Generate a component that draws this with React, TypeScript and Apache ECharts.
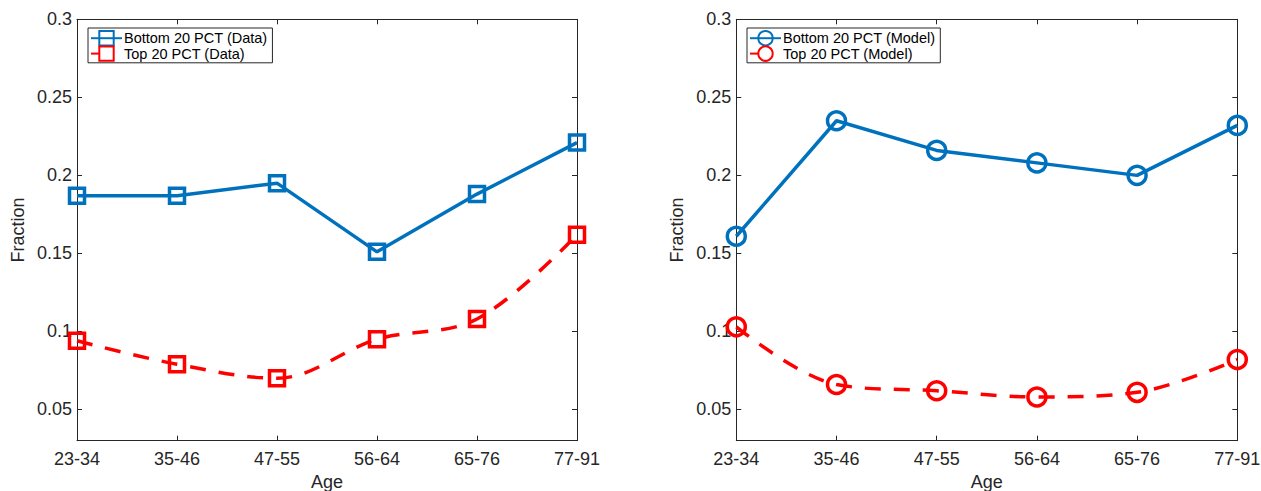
import React, { useEffect, useRef } from "react";
import * as echarts from "echarts";

const categories = ["23-34", "35-46", "47-55", "56-64", "65-76", "77-91"];
const dataBottom = [0.187, 0.187, 0.195, 0.151, 0.188, 0.221];
const dataTop = [0.094, 0.079, 0.07, 0.095, 0.108, 0.162];
const modelBottom = [0.161, 0.235, 0.216, 0.208, 0.2, 0.232];
const modelTop = [0.103, 0.066, 0.062, 0.058, 0.061, 0.082];
const yTicks = [0.05, 0.1, 0.15, 0.2, 0.25, 0.3];
const legendNames = [
  ["Bottom 20 PCT (Data)", "Top 20 PCT (Data)"],
  ["Bottom 20 PCT (Model)", "Top 20 PCT (Model)"],
];

const BLUE = "#0072BD";
const RED = "#FF0000";
const AX = "#262626";
const FONT = "'Liberation Sans', Arial, Helvetica, sans-serif";
const Y_MIN = 0.03;
const Y_MAX = 0.3;

export default function App() {
  const ref = useRef<HTMLDivElement>(null);
  useEffect(() => {
    if (!ref.current) return;
    const chart = echarts.init(ref.current, null, { renderer: "svg" });
    const grids = [
      { left: 77, top: 19.3, width: 500, height: 421.4, outerBoundsMode: "none", containLabel: false },
      { left: 736.3, top: 19.3, width: 501, height: 421.4, outerBoundsMode: "none", containLabel: false },
    ];
    const xAxes: any[] = [];
    const yAxes: any[] = [];
    grids.forEach((_, g) => {
      xAxes.push({
        type: "category",
        gridIndex: g,
        data: categories,
        boundaryGap: false,
        name: "Age",
        nameLocation: "middle",
        nameGap: 29,
        nameTextStyle: { color: AX, fontSize: 18, fontFamily: FONT },
        axisLine: { show: true, lineStyle: { color: AX, width: 1 } },
        axisTick: { show: true, inside: true, length: 5, alignWithLabel: true, lineStyle: { color: AX } },
        axisLabel: { color: AX, fontSize: 18, fontFamily: FONT, margin: 9 },
        splitLine: { show: false },
      });
      xAxes.push({
        type: "category",
        gridIndex: g,
        position: "top",
        data: categories,
        boundaryGap: false,
        axisLine: { show: true, lineStyle: { color: AX, width: 1 } },
        axisTick: { show: true, inside: true, length: 5, lineStyle: { color: AX } },
        axisLabel: { show: false },
        splitLine: { show: false },
      });
      yAxes.push({
        type: "value",
        gridIndex: g,
        min: Y_MIN,
        max: Y_MAX,
        name: "Fraction",
        nameLocation: "middle",
        nameGap: 50,
        nameTextStyle: { color: AX, fontSize: 18, fontFamily: FONT },
        axisLine: { show: true, lineStyle: { color: AX, width: 1 } },
        axisTick: { show: true, inside: true, length: 5, customValues: yTicks, lineStyle: { color: AX } },
        axisLabel: {
          color: AX,
          fontSize: 18,
          fontFamily: FONT,
          margin: 5,
          customValues: yTicks,
          formatter: (v: number) => String(Math.round(v * 100) / 100),
        },
        splitLine: { show: false },
      });
      yAxes.push({
        type: "value",
        gridIndex: g,
        position: "right",
        min: Y_MIN,
        max: Y_MAX,
        axisLine: { show: true, lineStyle: { color: AX, width: 1 } },
        axisTick: { show: true, inside: true, length: 5, customValues: yTicks, lineStyle: { color: AX } },
        axisLabel: { show: false, customValues: yTicks },
        splitLine: { show: false },
      });
    });

    const mk = (
      name: string,
      data: number[],
      g: number,
      color: string,
      symbol: string,
      size: number,
      dashed: boolean
    ) => ({
      type: "line",
      name,
      xAxisIndex: g * 2,
      yAxisIndex: g * 2,
      data,
      symbol,
      symbolSize: size,
      showSymbol: true,
      clip: false,
      smooth: dashed ? 0.35 : false,
      lineStyle: { color, width: 3.5, type: dashed ? [16, 13] : "solid", cap: "butt" },
      itemStyle: { color: "rgba(0,0,0,0)", borderColor: color, borderWidth: 3.5 },
      emphasis: { disabled: true },
      z: dashed ? 3 : 4,
    });

    const series = [
      mk(legendNames[0][0], dataBottom, 0, BLUE, "rect", 15, false),
      mk(legendNames[0][1], dataTop, 0, RED, "rect", 15, true),
      mk(legendNames[1][0], modelBottom, 1, BLUE, "circle", 18, false),
      mk(legendNames[1][1], modelTop, 1, RED, "circle", 18, true),
    ];

    const legendBase = {
      orient: "vertical",
      top: 28,
      padding: [2, 5, 1, 2],
      itemGap: -1,
      itemWidth: 31,
      itemHeight: 18,
      borderColor: AX,
      borderWidth: 1,
      backgroundColor: "#fff",
      textStyle: { color: "#000", fontSize: 14.5, fontFamily: FONT, padding: [0, 0, 0, -3] },
      selectedMode: false,
    };
    const legendData = (names: string[]) => [
      { name: names[0] },
      { name: names[1], lineStyle: { type: [8, 40] } },
    ];

    chart.setOption({
      animation: false,
      backgroundColor: "#fff",
      grid: grids,
      xAxis: xAxes,
      yAxis: yAxes,
      legend: [
        { ...legendBase, left: 88, data: legendData(legendNames[0]) },
        { ...legendBase, left: 747, data: legendData(legendNames[1]) },
      ],
      series,
    });
    return () => chart.dispose();
  }, []);
  return (
    <div
      ref={ref}
      style={{ position: "fixed", left: 0, top: 0, width: 1261, height: 491, background: "#fff" }}
    />
  );
}
